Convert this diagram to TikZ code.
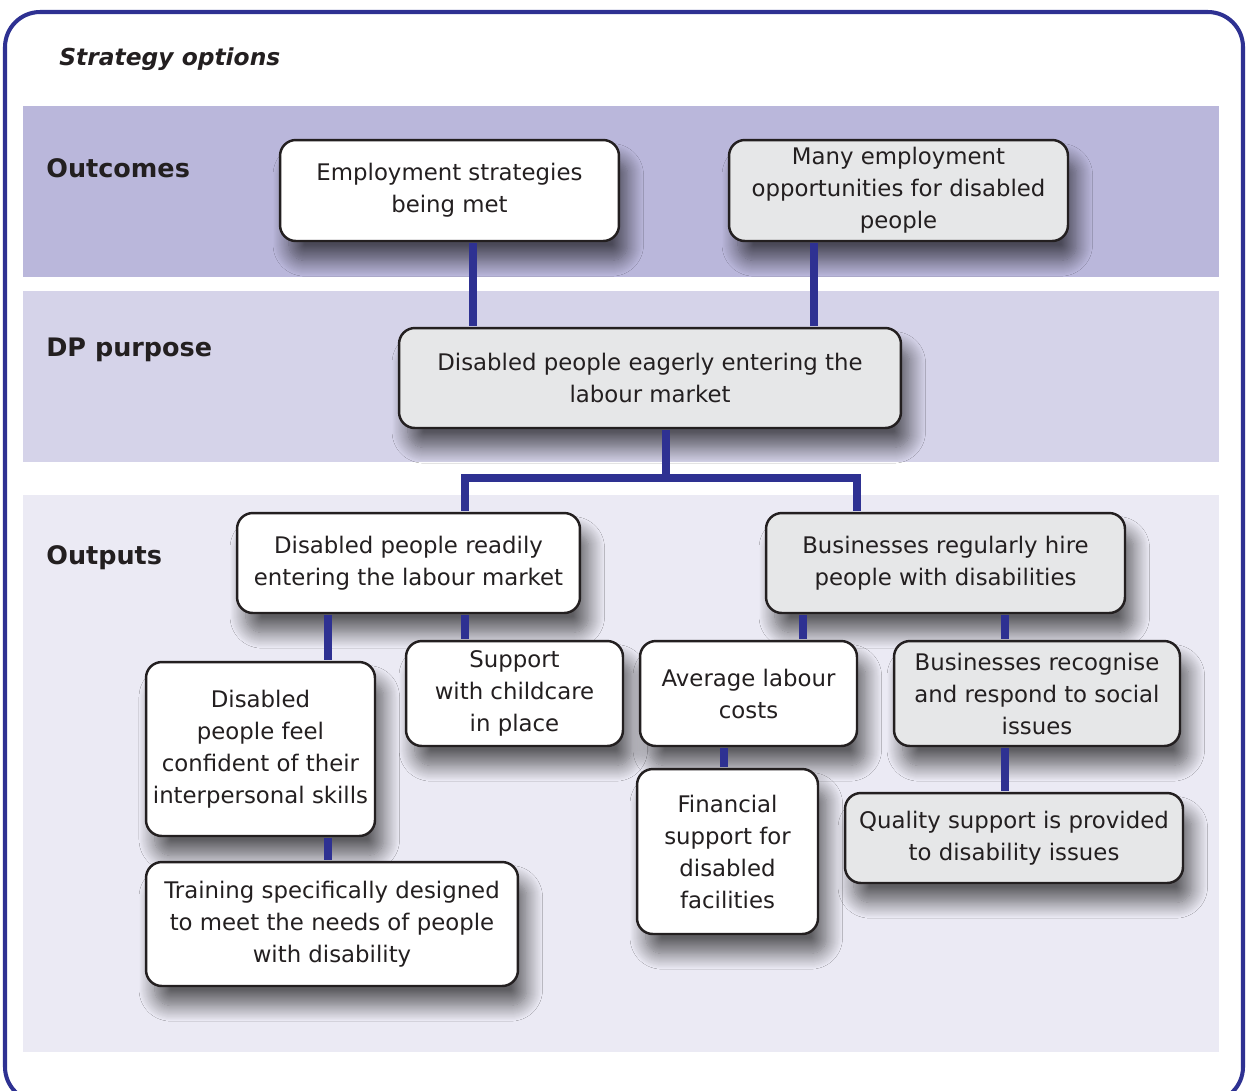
\documentclass[tikz,border=0pt]{standalone}
\usepackage{fontspec}
\setmainfont{DejaVu Sans}
\usepackage{tikz}
\usetikzlibrary{
  positioning,
  calc,
  shadows.blur,
}
\definecolor{frameblue}{HTML}{2E3192}
\definecolor{linkblue}{HTML}{2E3192}
\definecolor{ink}{HTML}{231F20}
\definecolor{bandtop}{HTML}{BAB7DB}
\definecolor{bandmid}{HTML}{D5D3E9}
\definecolor{bandlow}{HTML}{EBEAF4}
\definecolor{cardgrey}{HTML}{E6E7E8}
\definecolor{shade}{HTML}{4A4860}
\tikzset{
  every node/.append style={text=ink},
  heading/.style={font=\fontsize{14.5}{18}\selectfont\bfseries, anchor=west, inner sep=0pt},
  card/.style={
    draw=ink,
    fill=#1,
    line width=1.4pt,
    rounded corners=9pt,
    inner sep=2pt,
    align=center,
    font=\fontsize{13}{18.2}\selectfont,
    blur shadow={shadow xshift=5pt, shadow yshift=-11pt, shadow blur radius=9pt,
      shadow blur steps=16, shadow opacity=60, shadow blur extra rounding=4pt},
  },
  card/.default=white,
  link/.style={draw=linkblue, line width=4.5pt, shorten <=0.7pt, shorten >=0.7pt},
}

\begin{document}
\begin{tikzpicture}[x=0.02cm, y=-0.02cm]
  \useasboundingbox (0,0) rectangle (1250,1090);
  \fill[white] (0,0) rectangle (1250,1090);
  \draw[frameblue, line width=2.3pt, rounded corners=20pt] (5,12) rectangle (1243,1102);

  \node[font=\fontsize{13.3}{16}\selectfont\bfseries\itshape, anchor=west, inner sep=0pt] (title) at (59,59) {Strategy options};

  \fill[bandtop] (23,106) rectangle (1219,277);
  \fill[bandmid] (23,291) rectangle (1219,462);
  \fill[bandlow] (23,495) rectangle (1219,1052);

  \node[heading] (hout) at (46,168) {Outcomes};
  \node[heading] (hdp) at (46,350) {DP purpose};
  \node[heading] (hputs) at (46,558) {Outputs};

  % outcomes
  \node[card, minimum width=6.78cm, minimum height=2.02cm] (out1) at (449.5,190.5)
    {Employment strategies\\being met};
  \node[card=cardgrey, minimum width=6.78cm, minimum height=2.02cm] (out2) at (898.5,190.5)
    {Many employment\\opportunities for disabled\\people};

  % purpose
  \node[card=cardgrey, minimum width=10.04cm, minimum height=2cm] (dp) at (650,378)
    {Disabled people eagerly entering the\\labour market};

  % outputs
  \node[card, minimum width=6.86cm, minimum height=2cm] (op1) at (408.5,563)
    {Disabled people readily\\entering the labour market};
  \node[card=cardgrey, minimum width=7.18cm, minimum height=2cm] (op2) at (945.5,563)
    {Businesses regularly hire\\people with disabilities};
  \node[card, minimum width=4.58cm, minimum height=3.48cm] (confident) at (260.5,749)
    {Disabled\\people feel\\confident of their\\interpersonal skills};
  \node[card, minimum width=4.34cm, minimum height=2.1cm] (childcare) at (514.5,693.5)
    {Support\\with childcare\\in place};
  \node[card, minimum width=4.34cm, minimum height=2.1cm] (costs) at (748.5,693.5)
    {Average labour\\costs};
  \node[card=cardgrey, minimum width=5.72cm, minimum height=2.1cm] (social) at (1037,693.5)
    {Businesses recognise\\and respond to social\\issues};
  \node[card, minimum width=7.44cm, minimum height=2.48cm] (training) at (332,924)
    {Training specifically designed\\to meet the needs of people\\with disability};
  \node[card, minimum width=3.62cm, minimum height=3.3cm] (financial) at (727.5,851.5)
    {Financial\\support for\\disabled\\facilities};
  \node[card=cardgrey, minimum width=6.76cm, minimum height=1.8cm] (quality) at (1014,838)
    {Quality support is provided\\to disability issues};

  % connectors
  \draw[link] ([xshift=0.47cm]out1.south) -- ([xshift=0.47cm]out1.south |- dp.north);
  \draw[link] ([xshift=-1.69cm]out2.south) -- ([xshift=-1.69cm]out2.south |- dp.north);
  \coordinate (fork) at ([xshift=0.32cm, yshift=-0.98cm]dp.south);
  \draw[link] ([xshift=0.32cm]dp.south) -- (fork);
  \draw[link] ([xshift=1.13cm]op1.north) |- (fork) -| ([xshift=-1.77cm]op2.north);
  \draw[link] ([xshift=-1.61cm]op1.south) -- ([xshift=-1.61cm]op1.south |- confident.north);
  \draw[link] ([xshift=1.13cm]op1.south) -- ([xshift=1.13cm]op1.south |- childcare.north);
  \draw[link] ([xshift=1.35cm]confident.south) -- ([xshift=1.35cm]confident.south |- training.north);
  \draw[link] ([xshift=-2.85cm]op2.south) -- ([xshift=-2.85cm]op2.south |- costs.north);
  \draw[link] ([xshift=1.19cm]op2.south) -- ([xshift=1.19cm]op2.south |- social.north);
  \draw[link] ([xshift=-0.49cm]costs.south) -- ([xshift=-0.49cm]costs.south |- financial.north);
  \draw[link] ([xshift=-0.64cm]social.south) -- ([xshift=-0.64cm]social.south |- quality.north);
\end{tikzpicture}
\end{document}
